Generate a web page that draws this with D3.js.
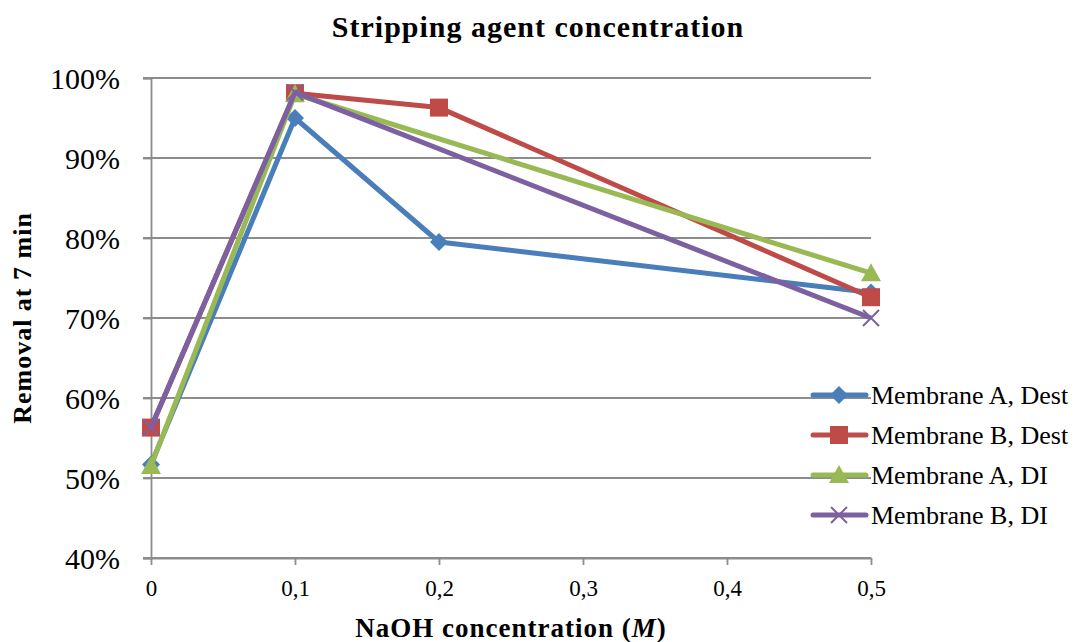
<!DOCTYPE html>
<html>
<head>
<meta charset="utf-8">
<script src="https://cdn.jsdelivr.net/npm/d3@7"></script>
<style>
  body { margin: 0; background: #fff; }
  svg { font-family: "Liberation Serif", "DejaVu Serif", serif; }
</style>
</head>
<body>
<div id="chart"></div>
<script>
const xTicks = [0, 0.1, 0.2, 0.3, 0.4, 0.5]
const yTicks = [0.4, 0.5, 0.6, 0.7, 0.8, 0.9, 1.0]

const seriesNames = ["Membrane A, Dest", "Membrane B, Dest", "Membrane A, DI", "Membrane B, DI"]
const aDestX = [0, 0.1, 0.2, 0.5]
const aDestY = [0.517, 0.950, 0.795, 0.732]
const bDestX = [0, 0.1, 0.2, 0.5]
const bDestY = [0.563, 0.981, 0.963, 0.726]
const aDiX = [0, 0.1, 0.5]
const aDiY = [0.515, 0.980, 0.756]
const bDiX = [0, 0.1, 0.5]
const bDiY = [0.563, 0.982, 0.700]

const colors = ["#4A7EBB", "#BE4B48", "#98B954", "#7D60A0"]
const markers = ["diamond", "square", "triangle", "cross"]

const series = [
  [aDestX, aDestY], [bDestX, bDestY], [aDiX, aDiY], [bDiX, bDiY]
].map((s, i) => ({
  name: seriesNames[i],
  color: colors[i],
  marker: markers[i],
  points: s[0].map((x, j) => [x, s[1][j]])
}))

const width = 1077
const height = 642
const margin = {top: 78, right: 206, bottom: 84, left: 151}

const svg = d3.select('#chart')
  .append('svg')
  .attr('width', width)
  .attr('height', height)

const x = d3.scaleLinear()
  .domain([0, 0.5])
  .range([margin.left, width - margin.right])
const y = d3.scaleLinear()
  .domain([0.4, 1.0])
  .range([height - margin.bottom, margin.top])

// gridlines
svg.append('g')
  .selectAll('line')
  .data(yTicks)
  .join('line')
    .attr('x1', x(0) - 8)
    .attr('x2', x(0.5))
    .attr('y1', d => y(d))
    .attr('y2', d => y(d))
    .attr('stroke', '#8c8c8c')
    .attr('stroke-width', 1.8)

// y axis
const yAxis = g => g
  .attr('transform', `translate(${x(0)},0)`)
  .call(d3.axisLeft(y).tickValues(yTicks).tickSize(8).tickFormat(d => Math.round(d * 100) + '%'))
  .call(g => g.selectAll('.domain, line').attr('stroke', '#8c8c8c').attr('stroke-width', 1.8))
  .call(g => g.selectAll('text')
    .attr('font-size', 30)
    .attr('fill', '#000')
    .attr('font-family', '"Liberation Serif", serif')
    .attr('x', -31)
    .attr('dy', '0.34em'))

// x axis
const xAxis = g => g
  .attr('transform', `translate(0,${y(0.4)})`)
  .call(d3.axisBottom(x).tickValues(xTicks).tickSize(7).tickSizeOuter(0).tickFormat(d => d === 0 ? '0' : d3.format('.1f')(d).replace('.', ',')))
  .call(g => g.selectAll('.domain, line').attr('stroke', '#8c8c8c').attr('stroke-width', 1.8))
  .call(g => g.selectAll('text')
    .attr('font-size', 23)
    .attr('fill', '#000')
    .attr('font-family', '"Liberation Serif", serif')
    .attr('y', 22))

svg.append('g').call(yAxis)
svg.append('g').call(xAxis)

const line = d3.line()
  .x(d => x(d[0]))
  .y(d => y(d[1]))

const drawMarker = (g, type, color, cx, cy) => {
  if (type === 'diamond') {
    g.append('path')
      .attr('d', `M${cx},${cy - 9}L${cx + 9},${cy}L${cx},${cy + 9}L${cx - 9},${cy}Z`)
      .attr('fill', color)
  } else if (type === 'square') {
    g.append('rect')
      .attr('x', cx - 9).attr('y', cy - 9)
      .attr('width', 18).attr('height', 18)
      .attr('fill', color)
  } else if (type === 'triangle') {
    g.append('path')
      .attr('d', `M${cx},${cy - 10}L${cx + 10},${cy + 8}L${cx - 10},${cy + 8}Z`)
      .attr('fill', color)
  } else {
    g.append('path')
      .attr('d', `M${cx - 8},${cy - 8}L${cx + 8},${cy + 8}M${cx + 8},${cy - 8}L${cx - 8},${cy + 8}`)
      .attr('stroke', color)
      .attr('stroke-width', 2)
  }
}

series.forEach(s => {
  const g = svg.append('g')
  g.append('path')
    .datum(s.points)
    .attr('d', line)
    .attr('fill', 'none')
    .attr('stroke', s.color)
    .attr('stroke-width', 5)
    .attr('stroke-linejoin', 'round')
  s.points.forEach(p => drawMarker(g, s.marker, s.color, x(p[0]), y(p[1])))
})

// legend
const legend = svg.append('g')
series.forEach((s, i) => {
  const ly = 395 + i * 40
  legend.append('line')
    .attr('x1', 813).attr('x2', 866)
    .attr('y1', ly).attr('y2', ly)
    .attr('stroke', s.color)
    .attr('stroke-width', 5)
    .attr('stroke-linecap', 'round')
  drawMarker(legend, s.marker, s.color, 839, ly)
  legend.append('text')
    .attr('x', 871)
    .attr('y', ly)
    .attr('dy', '0.35em')
    .attr('font-size', 26)
    .text(s.name)
})

// titles
svg.append('text')
  .attr('x', 538)
  .attr('y', 37)
  .attr('text-anchor', 'middle')
  .attr('font-size', 30)
  .attr('letter-spacing', 1)
  .attr('font-weight', 'bold')
  .text('Stripping agent concentration')

const xt = svg.append('text')
  .attr('x', 511)
  .attr('y', 637)
  .attr('text-anchor', 'middle')
  .attr('font-size', 27)
  .attr('letter-spacing', 1)
  .attr('font-weight', 'bold')
xt.append('tspan').text('NaOH concentration (')
xt.append('tspan').attr('font-style', 'italic').text('M')
xt.append('tspan').text(')')

svg.append('text')
  .attr('transform', 'translate(31,318) rotate(-90)')
  .attr('text-anchor', 'middle')
  .attr('font-size', 26)
  .attr('letter-spacing', 1)
  .attr('font-weight', 'bold')
  .text('Removal at 7 min')
</script>
</body>
</html>
